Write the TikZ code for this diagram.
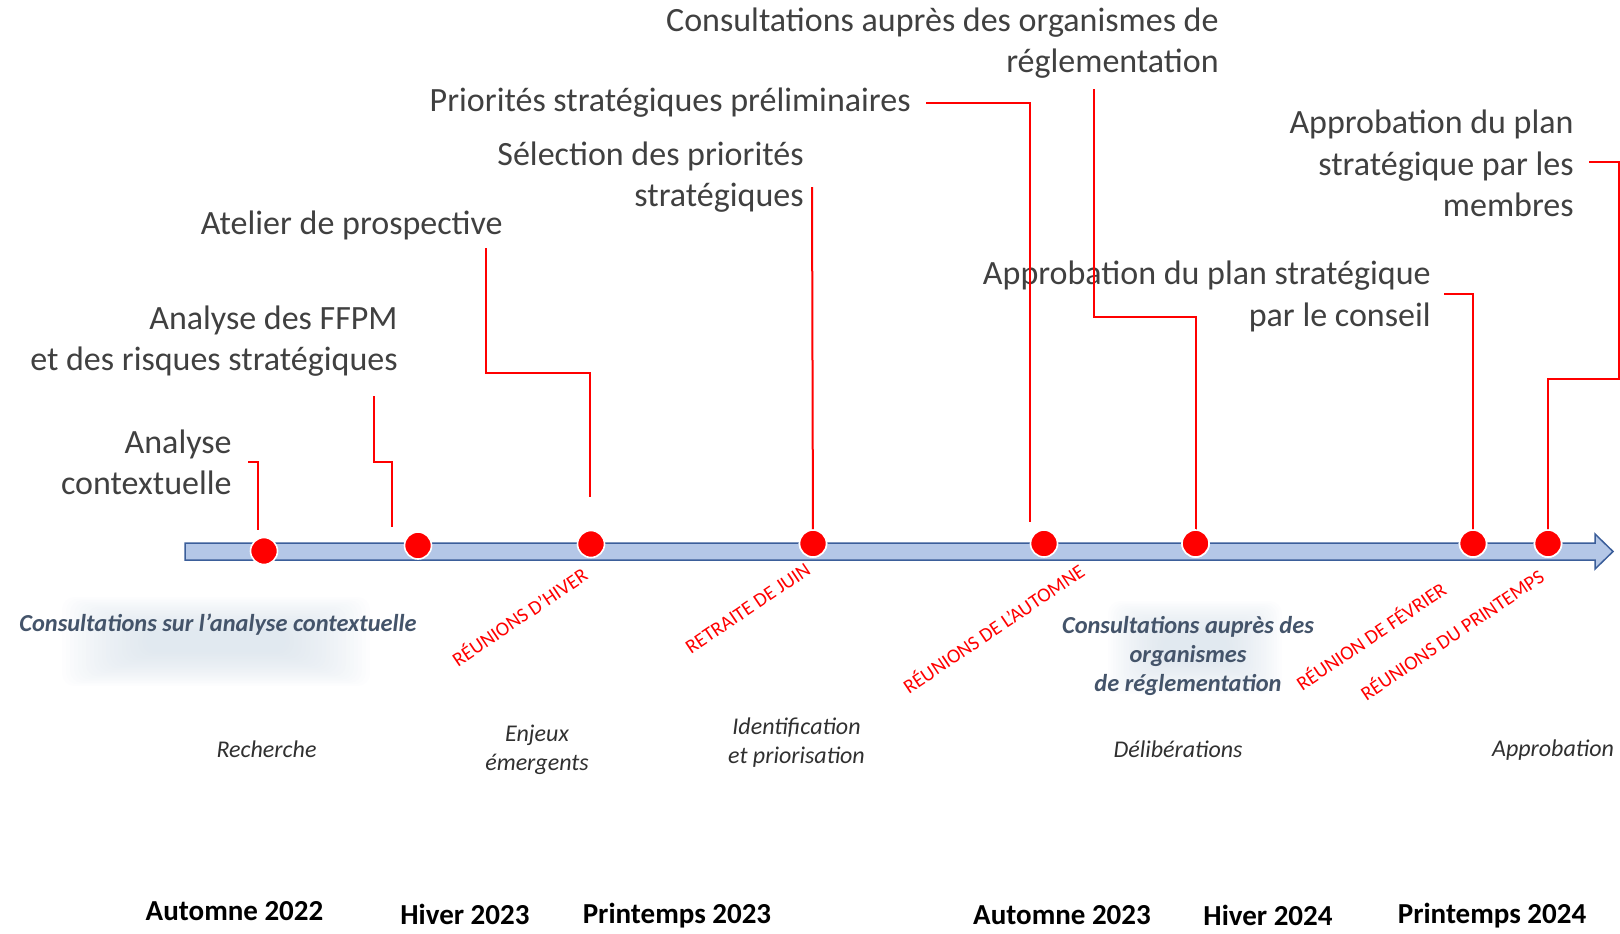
\documentclass[tikz,border=0pt]{standalone}
\usepackage{fontspec}
\setmainfont{Carlito}
\definecolor{lblgray}{HTML}{404040}
\definecolor{consblue}{HTML}{44546A}
\definecolor{phasegray}{HTML}{303030}
\definecolor{barfill}{HTML}{B4C7E7}
\definecolor{bardark}{HTML}{3B5E9A}
\definecolor{glow}{HTML}{CFDBE6}
\begin{document}
\begin{tikzpicture}[x=0.5pt,y=-0.5pt,
  lbl/.style={text=lblgray, font=\fontsize{17}{20.6}\selectfont, align=right, anchor=east, inner sep=0pt},
  conn/.style={draw=red, line width=1pt},
  evt/.style={text=red, font=\fontsize{10}{12}\selectfont, rotate=34, inner sep=0pt},
  dot/.style={circle, fill=red, draw=white, line width=0.8pt, minimum size=13.5pt, inner sep=0pt},
  cons/.style={text=consblue, font=\bfseries\itshape\fontsize{12.2}{14.5}\selectfont, align=center, inner sep=0pt},
  phase/.style={text=phasegray, font=\itshape\fontsize{12}{14.5}\selectfont, align=center, inner sep=0pt},
  season/.style={text=black, font=\bfseries\fontsize{14.5}{17}\selectfont, inner sep=0pt},
  glowlayer/.style={fill=glow, opacity=0.045}
]
\useasboundingbox (0,0) rectangle (1620,933);

% glows
\foreach \i in {0,...,21}{
  \fill[glowlayer, rounded corners=6pt] (62+\i*4,597+\i*1.6) rectangle (370-\i*4,686-\i*1.6);
  \fill[glowlayer, rounded corners=6pt] (1108+\i*2.6,601+\i*1.6) rectangle (1282-\i*2.6,694-\i*1.6);
}

% timeline bar
\draw[draw=bardark, fill=barfill, line width=0.75pt]
  (185,543) -- (1595,543) -- (1595,534) -- (1613,551.5) -- (1595,569) -- (1595,560) -- (185,560) -- cycle;

% dots
\node[dot] (d1) at (264,551) {};
\node[dot] (d2) at (418,545.5) {};
\node[dot] (d3) at (591,544) {};
\node[dot] (d4) at (813,543.5) {};
\node[dot] (d5) at (1044,543.5) {};
\node[dot] (d6) at (1195.5,543.5) {};
\node[dot] (d7) at (1473,543.5) {};
\node[dot] (d8) at (1548,543.5) {};

% main labels
\node[lbl] (l1) at (232,462.5) {Analyse\\contextuelle};
\node[lbl] (l2) at (398,341) {Analyse des FFPM\\et des risques stratégiques};
\node[lbl] (l3) at (503,225) {Atelier de prospective};
\node[lbl] (l4) at (804,177.5) {Sélection des priorités\\stratégiques};
\node[lbl] (l5) at (911,103) {Priorités stratégiques préliminaires};
\node[lbl] (l6) at (1219,43.5) {Consultations auprès des organismes de\\réglementation};
\node[lbl] (l7) at (1431,296.5) {Approbation du plan stratégique\\par le conseil};
\node[lbl] (l8) at (1574,163.5) {Approbation du plan\\stratégique par les\\membres};

% connectors
\coordinate (s1) at (248,462);
\coordinate (e1) at (258,530);
\draw[conn] (s1) -- (258,462) -- (e1);
\coordinate (s2) at (374,396);
\coordinate (e2) at (392,527);
\draw[conn] (s2) -- (374,462) -- (392,462) -- (e2);
\coordinate (s3) at (486,248);
\coordinate (e3) at (590,497);
\draw[conn] (s3) -- (486,373) -- (590,373) -- (e3);
\coordinate (s4) at (812,187);
\draw[conn] (s4) -- (d4.center);
\coordinate (s5) at (926,103);
\coordinate (e5) at (1030,522);
\draw[conn] (s5) -- (1030,103) -- (e5);
\coordinate (s6) at (1094,89);
\draw[conn] (s6) -- (1094,317) -- (1195.5,317) -- (d6.center);
\coordinate (s7) at (1444,294);
\draw[conn] (s7) -- (1473,294) -- (d7.center);
\coordinate (s8) at (1589,162);
\draw[conn] (s8) -- (1619,162) -- (1619,379) -- (1548,379) -- (d8.center);

% redraw dots on top
\node[dot] at (d4) {};
\node[dot] at (d6) {};
\node[dot] at (d7) {};
\node[dot] at (d8) {};

% event labels
\node[evt] (ev1) at (519,616) {RÉUNIONS D’HIVER};
\node[evt] (ev2) at (748,608.5) {RETRAITE DE JUIN};
\node[evt] (ev3) at (993,628) {RÉUNIONS DE L’AUTOMNE};
\node[evt] (ev4) at (1370.5,635.5) {RÉUNION DE FÉVRIER};
\node[evt] (ev5) at (1451.5,634) {RÉUNIONS DU PRINTEMPS};

% consultation labels
\node[cons] (c1) at (218,625) {Consultations sur l’analyse contextuelle};
\node[cons] (c2) at (1188,656) {Consultations auprès des\\organismes\\de réglementation};

% phases
\node[phase] (p1) at (266.5,749) {Recherche};
\node[phase] (p2) at (537,750) {Enjeux\\émergents};
\node[phase] (p3) at (796.5,742.5) {Identification\\et priorisation};
\node[phase] (p4) at (1178,749) {Délibérations};
\node[phase] (p5) at (1553,750) {Approbation};

% seasons
\node[season] (z1) at (234.5,911) {Automne 2022};
\node[season] (z2) at (465,914) {Hiver 2023};
\node[season] (z3) at (677,915.5) {Printemps 2023};
\node[season] (z4) at (1062,915.5) {Automne 2023};
\node[season] (z5) at (1268,915.5) {Hiver 2024};
\node[season] (z6) at (1492,915.5) {Printemps 2024};
\end{tikzpicture}
\end{document}
